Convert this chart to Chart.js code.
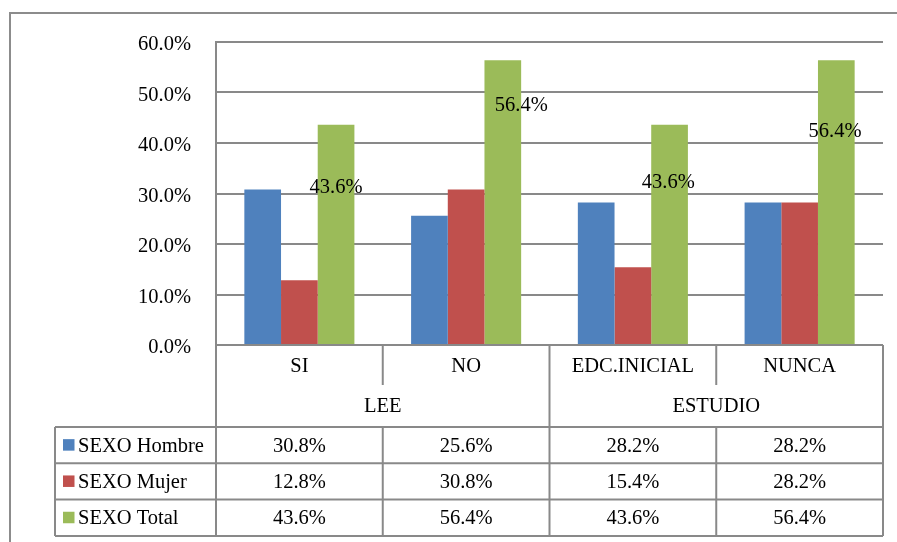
<!DOCTYPE html>
<html><head><meta charset="utf-8">
<script src="https://cdn.jsdelivr.net/npm/chart.js@4"></script>
<style>html,body{margin:0;padding:0;background:#fff;overflow:hidden}#wrap{width:897px;height:542px;position:relative}</style>
</head><body><div id="wrap"><canvas id="c"></canvas></div>
<script>
// ---- data ----
const categories = ['SI', 'NO', 'EDC.INICIAL', 'NUNCA'];
const groups = ['LEE', 'ESTUDIO'];
const groupSizes = [2, 2];
const seriesNames = ['SEXO Hombre', 'SEXO Mujer', 'SEXO Total'];
const hombre = [30.8, 25.6, 28.2, 28.2];
const mujer = [12.8, 30.8, 15.4, 28.2];
const total = [43.6, 56.4, 43.6, 56.4];
const yMin = 0, yMax = 60, yStep = 10;

// ---- styles ----
const FONT = '"Liberation Serif","Times New Roman",serif';
const FS = 20.5;
const LINE = '#898989';
const fmt = v => v.toFixed(1) + '%';

const tablePlugin = {
  id: 'excelTable',
  beforeDraw(chart) {
    const ctx = chart.ctx;
    ctx.save();
    ctx.fillStyle = '#fff';
    ctx.fillRect(0, 0, chart.width, chart.height);
    ctx.strokeStyle = '#8c8c8c';
    ctx.lineWidth = 2;
    ctx.beginPath();
    ctx.moveTo(10, chart.height + 5);
    ctx.lineTo(10, 13);
    ctx.lineTo(chart.width + 5, 13);
    ctx.stroke();
    ctx.restore();
  },
  afterDraw(chart, args, opts) {
    const ctx = chart.ctx, xs = chart.scales.x, ca = chart.chartArea;
    const n = categories.length;
    const cw = (ca.right - ca.left) / n;
    const edges = [];
    for (let i = 0; i < n; i++) edges.push(xs.getPixelForValue(i) - cw / 2);
    edges.push(xs.getPixelForValue(n - 1) + cw / 2);
    const yAxis = ca.bottom;
    const catBottom = yAxis + 40;
    const groupBottom = yAxis + 82;
    const rowH = 36.3;
    const tableBottom = groupBottom + rowH * seriesNames.length;
    const tableLeft = 55;

    ctx.save();
    ctx.strokeStyle = LINE;
    ctx.lineWidth = 2;
    const line = (x1, y1, x2, y2) => { ctx.beginPath(); ctx.moveTo(x1, y1); ctx.lineTo(x2, y2); ctx.stroke(); };

    const groupEdgeIdx = [0];
    let acc = 0;
    groupSizes.forEach(s => { acc += s; groupEdgeIdx.push(acc); });
    edges.forEach((e, i) => {
      if (groupEdgeIdx.includes(i)) line(e, yAxis, e, tableBottom);
      else { line(e, yAxis, e, catBottom); line(e, groupBottom, e, tableBottom); }
    });
    line(edges[0], yAxis, edges[n], yAxis);
    for (let r = 0; r <= seriesNames.length; r++) {
      const y = groupBottom + r * rowH;
      line(tableLeft, y, edges[n], y);
    }
    line(tableLeft, groupBottom, tableLeft, tableBottom);

    ctx.fillStyle = '#000';
    ctx.font = FS + 'px ' + FONT;
    ctx.textAlign = 'center';
    ctx.textBaseline = 'middle';
    categories.forEach((c, i) => ctx.fillText(c, xs.getPixelForValue(i), yAxis + 22));
    let start = 0;
    groups.forEach((g, gi) => {
      const end = start + groupSizes[gi];
      ctx.fillText(g, (edges[start] + edges[end]) / 2, catBottom + 22);
      start = end;
    });
    const seriesData = [hombre, mujer, total];
    seriesNames.forEach((s, r) => {
      const yc = groupBottom + r * rowH + rowH / 2 + 1;
      const col = chart.data.datasets[r].backgroundColor;
      ctx.fillStyle = col;
      ctx.fillRect(63, yc - 7, 11.5, 11.5);
      ctx.fillStyle = '#000';
      ctx.textAlign = 'left';
      ctx.fillText(s, 78, yc);
      ctx.textAlign = 'center';
      seriesData[r].forEach((v, i) => ctx.fillText(fmt(v), xs.getPixelForValue(i), yc));
    });

    const meta = chart.getDatasetMeta(2);
    ctx.textBaseline = 'alphabetic';
    meta.data.forEach((bar, i) => {
      const o = opts.labelOffsets[i];
      ctx.fillText(fmt(total[i]), bar.x + o[0], bar.y + o[1]);
    });
    ctx.restore();
  }
};

new Chart(document.getElementById('c'), {
  type: 'bar',
  data: {
    labels: categories,
    datasets: [
      { label: seriesNames[0], data: hombre, backgroundColor: '#4F81BD' },
      { label: seriesNames[1], data: mujer, backgroundColor: '#C0504D' },
      { label: seriesNames[2], data: total, backgroundColor: '#9BBB59' }
    ]
  },
  options: {
    responsive: true,
    maintainAspectRatio: false,
    animation: false,
    layout: { padding: { top: 42, right: 14, left: 0, bottom: 0 } },
    datasets: { bar: { categoryPercentage: 0.66, barPercentage: 1, borderWidth: 0 } },
    plugins: {
      legend: { display: false },
      tooltip: { enabled: false },
      excelTable: { labelOffsets: [[0, 68], [18.5, 51], [-1.3, 63], [-1.3, 77]] }
    },
    scales: {
      y: {
        min: yMin, max: yMax,
        ticks: { stepSize: yStep, padding: 25, labelOffset: 3, color: '#000', font: { family: FONT, size: FS }, callback: v => fmt(v) },
        grid: { color: LINE, lineWidth: 2, drawTicks: false },
        border: { display: true, color: LINE, width: 2 },
        afterFit(s) { s.width = 216; }
      },
      x: {
        ticks: { display: false },
        grid: { display: false, drawTicks: false },
        border: { display: false },
        afterFit(s) { s.height = 197; }
      }
    }
  },
  plugins: [tablePlugin]
});
</script>
</body></html>
